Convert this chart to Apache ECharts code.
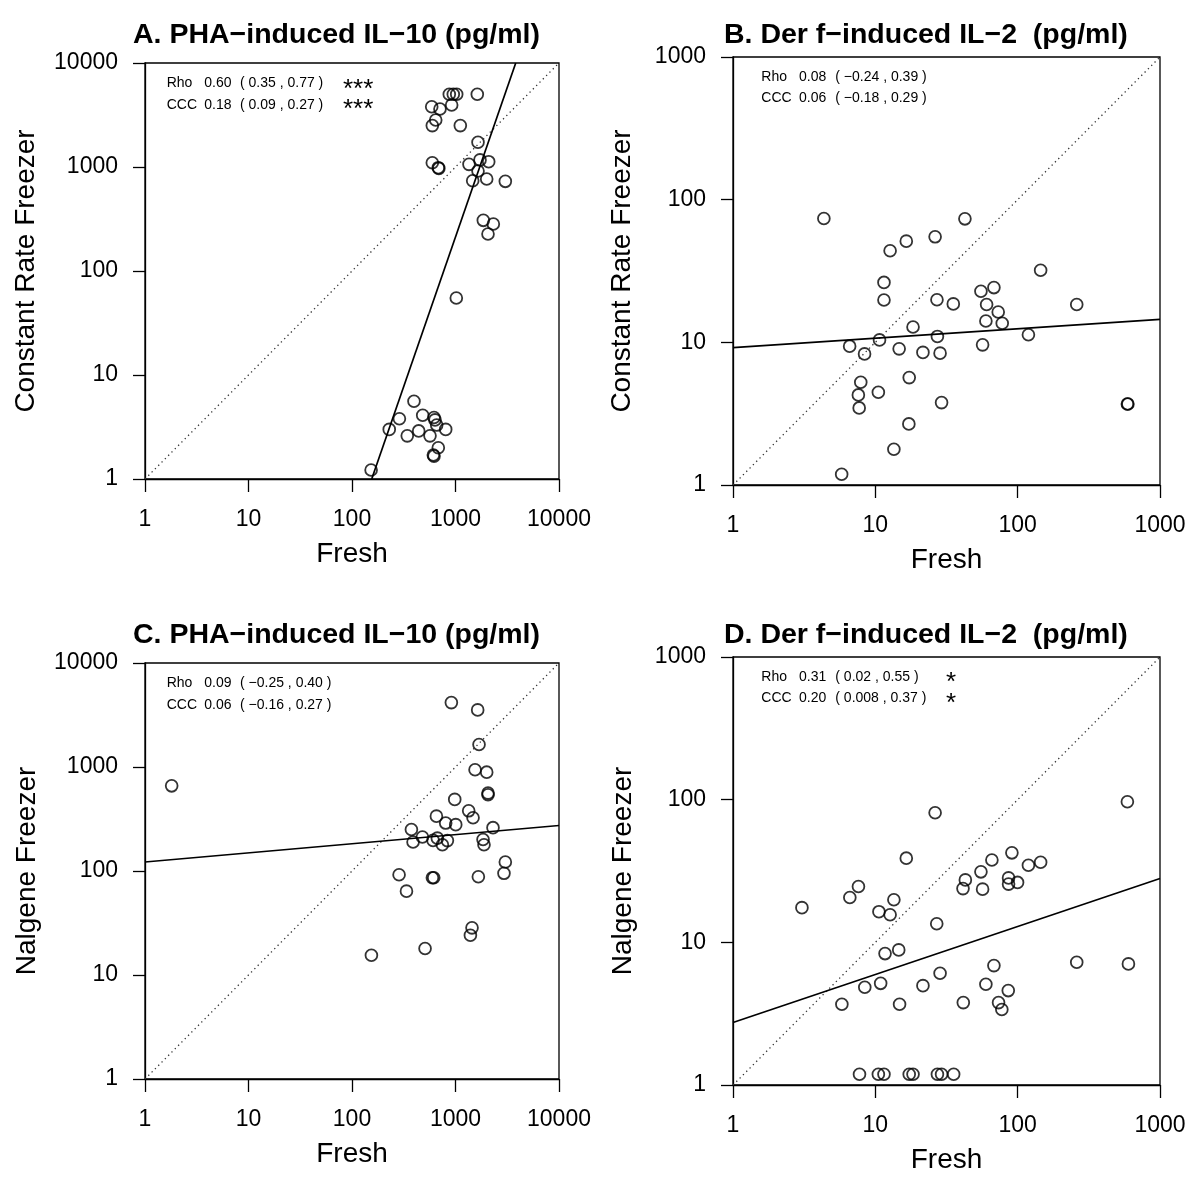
<!DOCTYPE html>
<html>
<head>
<meta charset="utf-8">
<script src="https://cdn.jsdelivr.net/npm/echarts@6/dist/echarts.min.js"></script>
<style>
html,body{margin:0;padding:0;background:#fff;}
#chart{width:1200px;height:1200px;}
</style>
</head>
<body>
<div id="chart"></div>
<script>
// ---------- DATA ----------
const titles = [
  "A. PHA\u2212induced IL\u221210 (pg/ml)",
  "B. Der f\u2212induced IL\u22122  (pg/ml)",
  "C. PHA\u2212induced IL\u221210 (pg/ml)",
  "D. Der f\u2212induced IL\u22122  (pg/ml)"
];
const xName = "Fresh";
const yNames = ["Constant Rate Freezer", "Constant Rate Freezer", "Nalgene Freezer", "Nalgene Freezer"];
const axisMax = [10000, 1000, 10000, 1000];

// Panel A: PHA-induced IL-10, Fresh vs Constant Rate Freezer
const aFresh = [871, 952, 1027, 1624, 589, 708, 918, 644, 597, 1113, 1650, 597, 682, 690, 1350, 1725, 2093, 1650, 1466, 2002, 3030, 1857, 2320, 2061, 1018,
                397, 287, 482, 620, 634, 658, 804, 229, 342, 441, 567, 682, 611, 620, 153];
const aFrozen = [5000, 5000, 5000, 5000, 3800, 3610, 3950, 2830, 2500, 2500, 1730, 1100, 985, 970, 1060, 1170, 1125, 915, 738, 767, 728, 307, 283, 227, 55,
                 5.6, 3.8, 4.1, 3.9, 3.7, 3.3, 3.0, 3.0, 2.6, 2.9, 2.6, 2.0, 1.7, 1.66, 1.22];
// Panel B: Der f-induced IL-2, Fresh vs Constant Rate Freezer
const bFresh = [4.35, 42.6, 26.3, 16.5, 12.7, 145, 11.5, 11.5, 27.1, 35.3, 55.2, 68.1, 60.5, 73.0, 260, 59.8, 77.9, 18.4, 119, 27.3, 10.7, 6.6, 8.4, 14.7, 21.6, 28.5, 56.7,
                7.9, 17.3, 7.6, 10.5, 7.7, 29.2, 590, 595, 17.2, 13.5, 5.8];
const bFrozen = [73.8, 73.4, 54.9, 51.2, 43.8, 32.0, 26.3, 19.8, 19.9, 18.6, 22.8, 24.2, 18.4, 16.3, 18.4, 14.1, 13.6, 12.8, 11.3, 11.0, 10.4, 9.4, 8.3, 9.0, 8.5, 8.4, 9.6,
                 5.25, 5.66, 4.28, 4.47, 3.47, 3.78, 3.70, 3.70, 2.68, 1.78, 1.19];
// Panel C: PHA-induced IL-10, Fresh vs Nalgene Freezer
const cFresh = [1.81, 912, 1638, 1688, 1545, 2002, 2062, 2062, 983, 1341, 1477, 654, 804, 1005, 2303, 375, 479, 389, 607, 668, 835, 747, 1845, 1885,
                3030, 2940, 285, 598, 616, 1663, 336, 1444, 1393, 508, 154];
const cFrozen = [659, 4160, 3540, 1644, 940, 892, 561, 541, 488, 379, 325, 337, 289, 279, 261, 251, 212, 190, 197, 207, 196, 179, 201, 179,
                 122, 95, 92, 86, 86, 88, 64, 28.4, 24.1, 18.0, 15.5];
// Panel D: Der f-induced IL-2, Fresh vs Nalgene Freezer
const dFresh = [590, 26.3, 91.1, 65.9, 145, 119, 16.5, 55.2, 42.9, 41.3, 56.7, 86.3, 86.3, 99.8, 7.61, 6.62, 13.5, 3.05, 10.6, 12.7, 27.0,
                11.7, 14.6, 260, 600, 68.1, 28.5, 10.9, 8.43, 21.6, 59.8, 85.9, 5.82, 14.8, 41.5, 73.4, 77.4,
                7.74, 10.5, 11.5, 17.3, 18.4, 27.3, 29.2, 35.5];
const dFrozen = [96.6, 80.9, 42.4, 37.8, 36.4, 34.7, 38.9, 31.2, 27.4, 23.8, 23.6, 28.3, 25.6, 26.3, 24.6, 20.6, 19.9, 17.5, 16.4, 15.6, 13.5,
                 8.34, 8.85, 7.25, 7.06, 6.87, 6.07, 5.16, 4.84, 4.97, 5.08, 4.59, 3.68, 3.68, 3.78, 3.78, 3.38,
                 1.19, 1.19, 1.19, 1.19, 1.19, 1.19, 1.19, 1.19];

// fitted regression line end points (on log-log scale) [x1, y1, x2, y2]
const fitA = [155, 1, 3819, 10000];
const fitB = [1, 9.19, 1000, 14.5];
const fitC = [1, 122, 10000, 274];
const fitD = [1, 2.74, 1000, 28.0];

// annotation texts
const statLabels = ["Rho", "CCC"];
const statEst = [["0.60", "0.18"], ["0.08", "0.06"], ["0.09", "0.06"], ["0.31", "0.20"]];
const statCI = [["( 0.35 , 0.77 )", "( 0.09 , 0.27 )"],
                ["( \u22120.24 , 0.39 )", "( \u22120.18 , 0.29 )"],
                ["( \u22120.25 , 0.40 )", "( \u22120.16 , 0.27 )"],
                ["( 0.02 , 0.55 )", "( 0.008 , 0.37 )"]];
const statSig = [["***", "***"], ["", ""], ["", ""], ["*", "*"]];

// ---------- LAYOUT ----------
const FONT = "'Liberation Sans', Arial, Helvetica, sans-serif";
const grids = [
  {left: 145, top: 63, width: 414, height: 416},
  {left: 733, top: 57, width: 427, height: 428},
  {left: 145, top: 663, width: 414, height: 416},
  {left: 733, top: 657, width: 427, height: 428}
];
const titlePos = [{left: 133, top: 21}, {left: 724, top: 21}, {left: 133, top: 621}, {left: 724, top: 621}];
const yNameGap = [105, 97, 104, 96];
// annotation anchor offsets
const annot = [
  {x0: 166.7, x1: 204.3, x2: 240, x3: 343, y: [83.5, 105.2], sy: [90.3, 110.3]},
  {x0: 761.3, x1: 799, x2: 835.3, x3: 948, y: [76.8, 98.5], sy: [82.5, 104]},
  {x0: 166.7, x1: 204.3, x2: 240, x3: 343, y: [683.5, 705.2], sy: [690.8, 710.8]},
  {x0: 761.3, x1: 799, x2: 835.3, x3: 946, y: [676.8, 698.5], sy: [682.5, 704]}
];

const xs = [aFresh, bFresh, cFresh, dFresh];
const ys = [aFrozen, bFrozen, cFrozen, dFrozen];
const fits = [fitA, fitB, fitC, fitD];

const fmt = v => String(Math.round(v));

const option = {
  backgroundColor: '#fff',
  animation: false,
  title: titles.map((t, i) => ({
    text: t, left: titlePos[i].left, top: titlePos[i].top, padding: 0,
    textStyle: {fontFamily: FONT, fontSize: 28.5, fontWeight: 'bold', color: '#000'}
  })),
  grid: grids.map(g => Object.assign({show: true, borderColor: '#000', borderWidth: 1.3, containLabel: false}, g)),
  xAxis: grids.map((g, i) => ({
    type: 'log', logBase: 10, gridIndex: i, min: 1, max: axisMax[i],
    name: xName, nameLocation: 'middle', nameGap: 61,
    nameTextStyle: {fontFamily: FONT, fontSize: 28, color: '#000'},
    axisLine: {show: true, lineStyle: {color: '#000', width: 1.3}},
    axisTick: {show: true, inside: false, length: 13, lineStyle: {color: '#000', width: 1.3}},
    axisLabel: {show: true, margin: 29, fontFamily: FONT, fontSize: 23, color: '#000', formatter: fmt, showMinLabel: true, showMaxLabel: true},
    splitLine: {show: false}, minorTick: {show: false}
  })),
  yAxis: grids.map((g, i) => ({
    type: 'log', logBase: 10, gridIndex: i, min: 1, max: axisMax[i],
    name: yNames[i], nameLocation: 'middle', nameGap: yNameGap[i], nameRotate: 90,
    nameTextStyle: {fontFamily: FONT, fontSize: 28, color: '#000'},
    axisLine: {show: true, lineStyle: {color: '#000', width: 1.3}},
    axisTick: {show: true, inside: false, length: 12, lineStyle: {color: '#000', width: 1.3}},
    axisLabel: {show: true, margin: 27, fontFamily: FONT, fontSize: 23, color: '#000', formatter: fmt, showMinLabel: true, showMaxLabel: true},
    splitLine: {show: false}, minorTick: {show: false}
  })),
  series: [],
  graphic: []
};

for (let i = 0; i < 4; i++) {
  option.series.push({
    type: 'line', xAxisIndex: i, yAxisIndex: i, silent: true,
    data: [[1, 1], [axisMax[i], axisMax[i]]],
    showSymbol: false, symbol: 'none',
    lineStyle: {color: '#333', width: 1.3, type: [1.3, 3.4]}
  });
  option.series.push({
    type: 'scatter', xAxisIndex: i, yAxisIndex: i,
    data: xs[i].map((x, k) => [x, ys[i][k]]),
    symbol: 'circle', symbolSize: 11.8,
    itemStyle: {color: 'rgba(0,0,0,0)', borderColor: '#000', borderWidth: 1.8}
  });
  const f = fits[i];
  option.series.push({
    type: 'line', xAxisIndex: i, yAxisIndex: i, silent: true,
    data: [[f[0], f[1]], [f[2], f[3]]],
    showSymbol: false, symbol: 'none',
    lineStyle: {color: '#000', width: 1.7, type: 'solid'}
  });
  const a = annot[i];
  for (let r = 0; r < 2; r++) {
    const common = {fontFamily: FONT, fontSize: 14, fill: '#000', verticalAlign: 'middle', align: 'left'};
    option.graphic.push({type: 'text', x: a.x0, y: a.y[r], style: Object.assign({text: statLabels[r]}, common)});
    option.graphic.push({type: 'text', x: a.x1, y: a.y[r], style: Object.assign({text: statEst[i][r]}, common)});
    option.graphic.push({type: 'text', x: a.x2, y: a.y[r], style: Object.assign({text: statCI[i][r]}, common)});
    if (statSig[i][r]) {
      option.graphic.push({type: 'text', x: a.x3, y: a.sy[r],
        style: {text: statSig[i][r], fontFamily: FONT, fontSize: 26, fill: '#000', verticalAlign: 'middle', align: 'left'}});
    }
  }
}

const chart = echarts.init(document.getElementById('chart'), null, {renderer: 'canvas'});
chart.setOption(option);
</script>
</body>
</html>
